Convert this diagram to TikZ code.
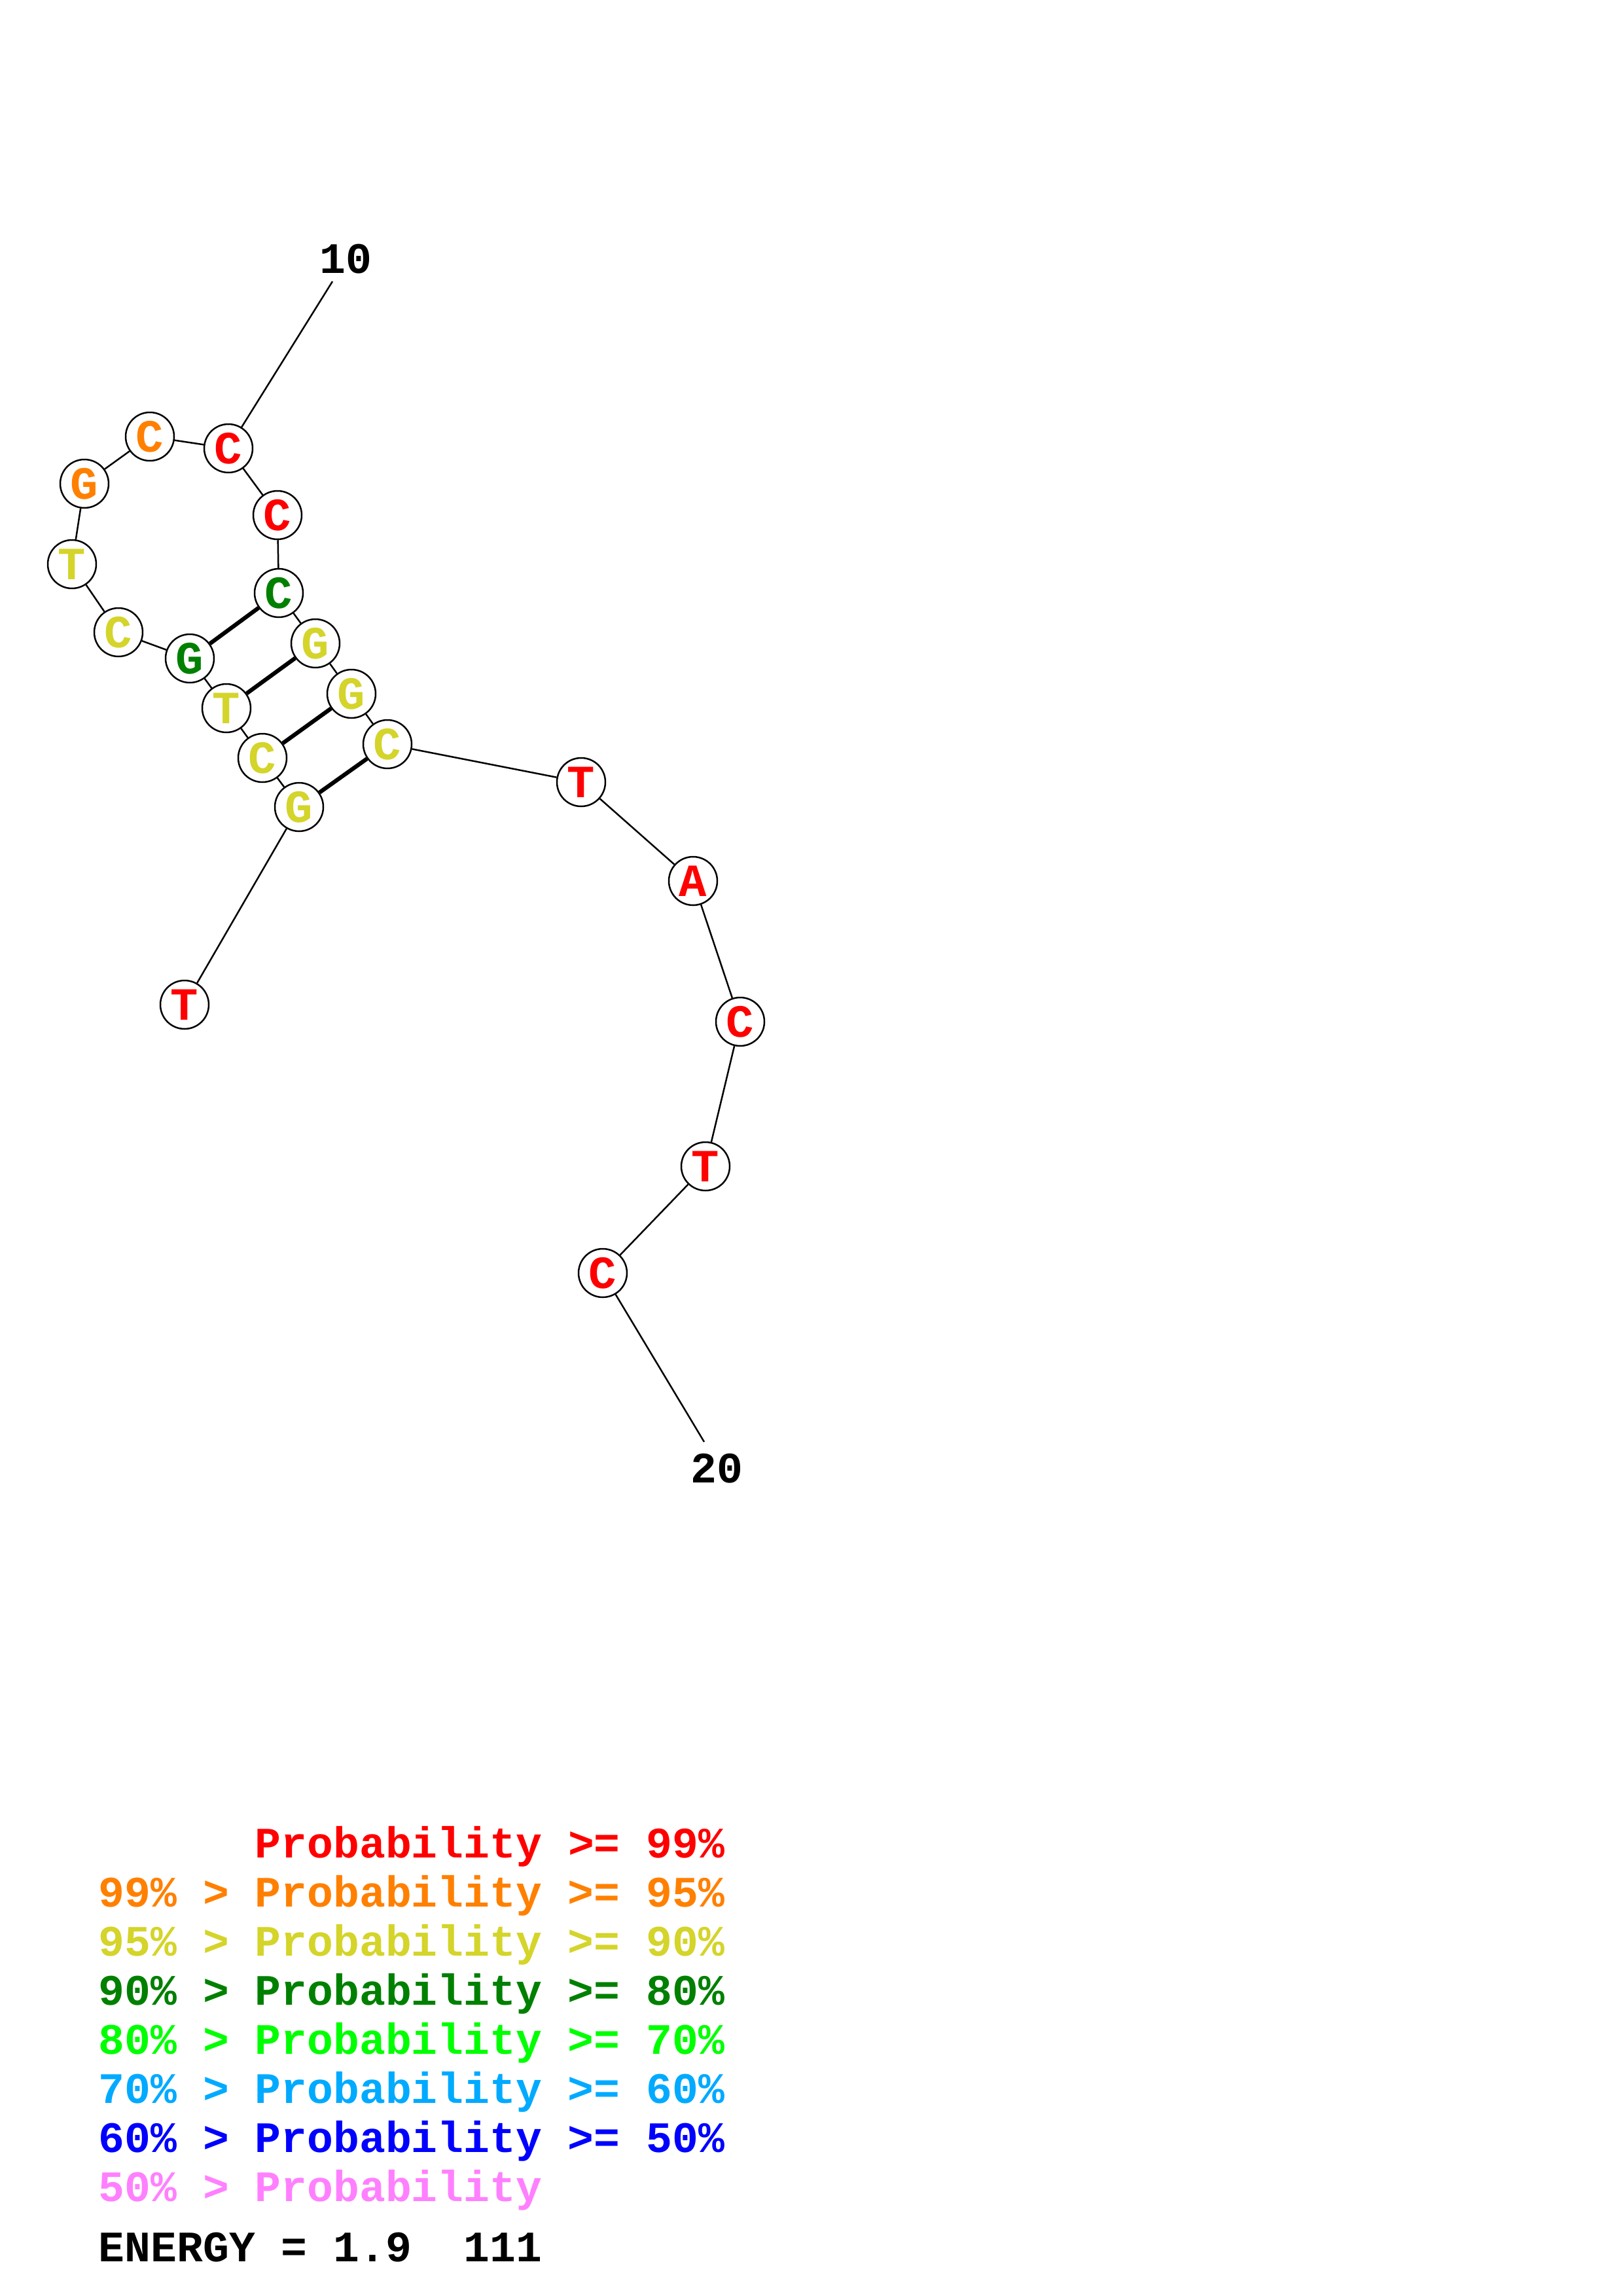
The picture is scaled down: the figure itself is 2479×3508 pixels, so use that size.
\documentclass[tikz,border=0pt]{standalone}
\usepackage{fontspec}
\setmonofont{Liberation Mono}
\definecolor{pRed}{RGB}{255,0,0}
\definecolor{pOrange}{RGB}{255,128,0}
\definecolor{pYellow}{RGB}{212,212,42}
\definecolor{pGreen}{RGB}{0,128,0}
\definecolor{pLime}{RGB}{0,255,0}
\definecolor{pSky}{RGB}{0,170,255}
\definecolor{pBlue}{RGB}{0,0,255}
\definecolor{pPink}{RGB}{255,128,255}
\tikzset{
  base/.style={circle, draw=black, line width=0.6pt, fill=white, minimum size=74*0.0084667cm, inner sep=0pt, font=\fontsize{17}{17}\selectfont\ttfamily\bfseries},
  bb/.style={line width=0.6pt, black},
  bp/.style={line width=1.5pt, black},
  endlabel/.style={font=\fontsize{16}{16}\selectfont\ttfamily\bfseries, inner sep=0pt},
  legend/.style={font=\fontsize{16}{16}\selectfont\ttfamily\bfseries, anchor=base west, inner sep=0pt}
}
\begin{document}
\begin{tikzpicture}[x=0.0084667cm, y=-0.0084667cm]
\useasboundingbox (0,0) rectangle (2479,3508);
% backbone nodes
\node[base, text=pRed]    (n1)  at (349,685)  {C};
\node[base, text=pOrange] (n2)  at (229,667)  {C};
\node[base, text=pOrange] (n3)  at (129,739)  {G};
\node[base, text=pYellow] (n4)  at (110,862)  {T};
\node[base, text=pYellow] (n5)  at (181,966)  {C};
\node[base, text=pGreen]  (n6)  at (290,1006) {G};
\node[base, text=pYellow] (n7)  at (346,1082) {T};
\node[base, text=pYellow] (n8)  at (401,1158) {C};
\node[base, text=pYellow] (n9)  at (457,1233) {G};
\node[base, text=pRed]    (n10) at (282,1535) {T};
\node[base, text=pRed]    (m1)  at (424,787)  {C};
\node[base, text=pGreen]  (m2)  at (426,906)  {C};
\node[base, text=pYellow] (m3)  at (482,983)  {G};
\node[base, text=pYellow] (m4)  at (537,1060) {G};
\node[base, text=pYellow] (m5)  at (592,1137) {C};
\node[base, text=pRed]    (r1)  at (888,1195) {T};
\node[base, text=pRed]    (r2)  at (1059,1346) {A};
\node[base, text=pRed]    (r3)  at (1131,1561) {C};
\node[base, text=pRed]    (r4)  at (1078,1782) {T};
\node[base, text=pRed]    (r5)  at (921,1945) {C};
% end labels
\node[endlabel] (lab10) at (528,396) {10};
\coordinate (e10) at (508,430);
\node[endlabel] (lab20) at (1095,2244) {20};
\coordinate (e20) at (1076,2203);
% backbone
\draw[bb] (e10) -- (n1);
\draw[bb] (n1) -- (n2);
\draw[bb] (n2) -- (n3);
\draw[bb] (n3) -- (n4);
\draw[bb] (n4) -- (n5);
\draw[bb] (n5) -- (n6);
\draw[bb] (n6) -- (n7);
\draw[bb] (n7) -- (n8);
\draw[bb] (n8) -- (n9);
\draw[bb] (n9) -- (n10);
\draw[bb] (n1) -- (m1);
\draw[bb] (m1) -- (m2);
\draw[bb] (m2) -- (m3);
\draw[bb] (m3) -- (m4);
\draw[bb] (m4) -- (m5);
\draw[bb] (m5) -- (r1);
\draw[bb] (r1) -- (r2);
\draw[bb] (r2) -- (r3);
\draw[bb] (r3) -- (r4);
\draw[bb] (r4) -- (r5);
\draw[bb] (r5) -- (e20);
% base pairs
\draw[bp] (n6) -- (m2);
\draw[bp] (n7) -- (m3);
\draw[bp] (n8) -- (m4);
\draw[bp] (n9) -- (m5);
% legend
\node[legend, text=pRed]    (g1) at (150,2838)   {\ \ \ \ \ \ Probability >= 99\%};
\node[legend, text=pOrange] (g2) at (150,2913) {99\% > Probability >= 95\%};
\node[legend, text=pYellow] (g3) at (150,2988)   {95\% > Probability >= 90\%};
\node[legend, text=pGreen]  (g4) at (150,3063) {90\% > Probability >= 80\%};
\node[legend, text=pLime]   (g5) at (150,3138)   {80\% > Probability >= 70\%};
\node[legend, text=pSky]    (g6) at (150,3213) {70\% > Probability >= 60\%};
\node[legend, text=pBlue]   (g7) at (150,3288)   {60\% > Probability >= 50\%};
\node[legend, text=pPink]   (g8) at (150,3363) {50\% > Probability};
\node[legend, text=black]   (g9) at (150,3455)   {ENERGY = 1.9\ \ 111};
\end{tikzpicture}
\end{document}
